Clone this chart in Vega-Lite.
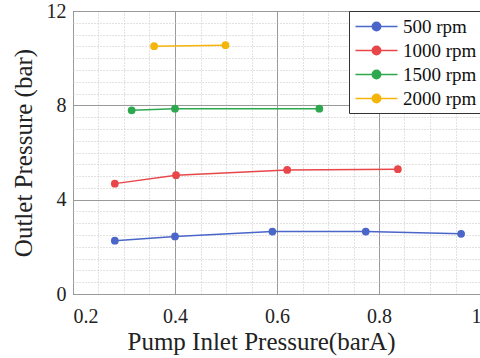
{
  "$schema": "https://vega.github.io/schema/vega-lite/v6.json",
  "width": 408,
  "height": 283,
  "autosize": {"type": "none"},
  "padding": {"left": 73, "top": 11, "right": 0, "bottom": 64},
  "background": "white",
  "config": {
    "font": "Liberation Serif",
    "view": {"stroke": "#333333", "strokeWidth": 1}
  },
  "data": {
    "values": [
      {"p": 0.282, "out": 2.26, "speed": "500 rpm"},
      {"p": 0.400, "out": 2.44, "speed": "500 rpm"},
      {"p": 0.591, "out": 2.65, "speed": "500 rpm"},
      {"p": 0.774, "out": 2.65, "speed": "500 rpm"},
      {"p": 0.961, "out": 2.55, "speed": "500 rpm"},
      {"p": 0.282, "out": 4.68, "speed": "1000 rpm"},
      {"p": 0.402, "out": 5.04, "speed": "1000 rpm"},
      {"p": 0.620, "out": 5.26, "speed": "1000 rpm"},
      {"p": 0.837, "out": 5.29, "speed": "1000 rpm"},
      {"p": 0.315, "out": 7.79, "speed": "1500 rpm"},
      {"p": 0.400, "out": 7.86, "speed": "1500 rpm"},
      {"p": 0.683, "out": 7.86, "speed": "1500 rpm"},
      {"p": 0.359, "out": 10.51, "speed": "2000 rpm"},
      {"p": 0.499, "out": 10.55, "speed": "2000 rpm"}
    ]
  },
  "encoding": {
    "x": {
      "field": "p", "type": "quantitative",
      "scale": {"domain": [0.2, 1.0], "nice": false, "zero": false},
      "axis": {
        "title": "Pump Inlet Pressure(barA)",
        "values": [0.2,0.25,0.3,0.35,0.4,0.45,0.5,0.55,0.6,0.65,0.7,0.75,0.8,0.85,0.9,0.95,1.0],
        "labelExpr": "abs(datum.value*5 - round(datum.value*5)) < 0.001 ? (abs(datum.value-1) < 0.001 ? '1' : format(datum.value, '.1f')) : ''",
        "labelOverlap": false,
        "labelBound": false,
        "labelFont": "Liberation Serif",
        "labelFontSize": 20,
        "labelColor": "#222222",
        "labelPadding": 12,
        "ticks": false,
        "domain": false,
        "titleFont": "Liberation Serif",
        "titleFontSize": 25,
        "titleFontWeight": "normal",
        "titleColor": "#222222",
        "titlePadding": 3,
        "titleX": 188,
        "titleAlign": "center",
        "grid": true,
        "gridColor": {"condition": {"test": "abs(datum.value*5 - round(datum.value*5)) < 0.001", "value": "#9a9a9a"}, "value": "#c4c4c4"},
        "gridDash": {"condition": {"test": "abs(datum.value*5 - round(datum.value*5)) < 0.001", "value": []}, "value": [1, 2]},
        "gridWidth": 1
      }
    },
    "y": {
      "field": "out", "type": "quantitative",
      "scale": {"domain": [0, 12], "nice": false},
      "axis": {
        "title": "Outlet Pressure (bar)",
        "values": [0,0.5,1,1.5,2,2.5,3,3.5,4,4.5,5,5.5,6,6.5,7,7.5,8,8.5,9,9.5,10,10.5,11,11.5,12],
        "labelExpr": "datum.value % 4 == 0 ? format(datum.value, 'd') : ''",
        "labelOverlap": false,
        "labelBound": false,
        "labelFont": "Liberation Serif",
        "labelFontSize": 20,
        "labelColor": "#222222",
        "labelPadding": 7,
        "ticks": false,
        "domain": false,
        "titleFont": "Liberation Serif",
        "titleFontSize": 25,
        "titleFontWeight": "normal",
        "titleColor": "#222222",
        "titlePadding": 10,
        "grid": true,
        "gridColor": {"condition": {"test": "datum.value % 4 == 0", "value": "#9a9a9a"}, "value": "#c4c4c4"},
        "gridDash": {"condition": {"test": "datum.value % 4 == 0", "value": []}, "value": [1, 2]},
        "gridWidth": 1
      }
    },
    "color": {
      "field": "speed", "type": "nominal",
      "scale": {
        "domain": ["500 rpm", "1000 rpm", "1500 rpm", "2000 rpm"],
        "range": ["#4a66c8", "#e8474a", "#2ea84f", "#f5b50a"]
      },
      "legend": {
        "title": null,
        "orient": "top-right",
        "offset": 0,
        "fillColor": "white",
        "strokeColor": "#333333",
        "padding": 4,
        "labelFont": "Liberation Serif",
        "labelFontSize": 19,
        "labelColor": "#111111",
        "symbolOffset": 12,
        "labelOffset": 15,
        "rowPadding": 2,
        "symbolType": "M-2,0H2M-0.4,0A0.4,0.4,0,1,1,0.4,0A0.4,0.4,0,1,1,-0.4,0Z",
        "symbolSize": 441,
        "symbolStrokeWidth": 1.5
      }
    }
  },
  "layer": [
    {"mark": {"type": "line", "strokeWidth": 1.5}},
    {"mark": {"type": "point", "filled": true, "size": 60, "opacity": 1}}
  ]
}
